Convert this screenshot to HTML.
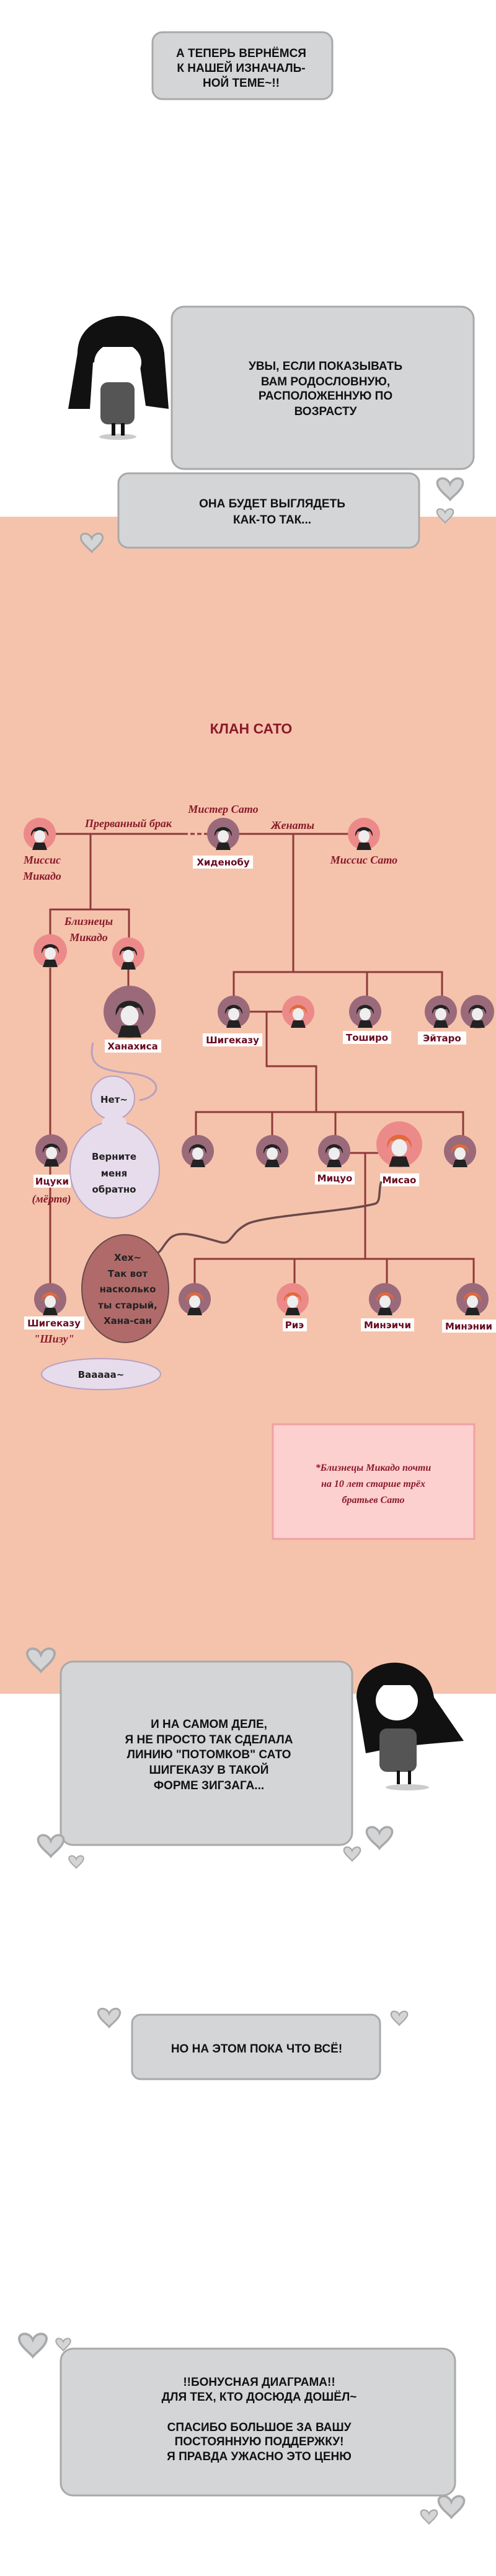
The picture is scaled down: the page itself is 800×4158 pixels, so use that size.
<!DOCTYPE html>
<html><head><meta charset="utf-8"><style>
html,body{margin:0;padding:0;background:#fff}
body{width:800px;height:4158px;position:relative;overflow:hidden}
svg{position:absolute;left:0;top:0}
.c{font-family:"Liberation Sans",sans-serif;font-weight:bold;fill:#111;text-anchor:middle;font-size:19px}
.r{font-family:"Liberation Serif",serif;font-style:italic;font-weight:bold;fill:#8a1a2a;text-anchor:middle;font-size:18px}
.l{font-family:"DejaVu Sans",sans-serif;font-weight:bold;fill:#6a0a20;text-anchor:middle;font-size:15px}
.b{font-family:"DejaVu Sans",sans-serif;fill:#222;text-anchor:middle;font-size:15px;font-weight:bold}
</style></head><body>
<svg width="800" height="4158" viewBox="0 0 800 4158">
<defs>
<g id="heart"><path d="M0,6 C-4,-4 -18,-2 -14,8 C-11,15 -3,20 0,24 C3,20 11,15 14,8 C18,-2 4,-4 0,6Z" fill="#d4d5d7" stroke="#a9a9a9" stroke-width="2.5"/></g>
<g id="fd"><path d="M-14,4 C-16,-16 16,-16 14,4 L10,-4 L-10,-4Z" fill="#222"/><ellipse cx="0" cy="4" rx="9" ry="10" fill="#eee"/><path d="M-12,26 L-8,14 L8,14 L12,26Z" fill="#222"/></g>
<g id="fo"><path d="M-14,4 C-16,-16 16,-16 14,4 L10,-4 L-10,-4Z" fill="#e06a3a"/><ellipse cx="0" cy="4" rx="9" ry="10" fill="#eee"/><path d="M-12,26 L-8,14 L8,14 L12,26Z" fill="#222"/></g>
</defs>
<rect x="0" y="834" width="800" height="1900" fill="#f5c3ac"/>

<rect x="246" y="52" width="290" height="108" rx="16" fill="#d4d5d7" stroke="#a9a9a9" stroke-width="3"/>
<text class="c" x="389" y="92">А ТЕПЕРЬ ВЕРНЁМСЯ</text>
<text class="c" x="389" y="116">К НАШЕЙ ИЗНАЧАЛЬ-</text>
<text class="c" x="389" y="140">НОЙ ТЕМЕ~!!</text>

<ellipse cx="190" cy="705" rx="30" ry="5" fill="#ccc"/>
<path d="M125,570 C125,495 255,485 265,570 L272,660 L235,655 L225,585 L150,585 L145,660 L110,660Z" fill="#111"/>
<ellipse cx="190" cy="585" rx="38" ry="32" fill="#fff"/>
<path d="M152,570 C155,520 228,520 230,570 L230,560 L152,560Z" fill="#111"/>
<rect x="162" y="617" width="55" height="68" rx="12" fill="#555"/>
<rect x="180" y="683" width="6" height="20" fill="#111"/><rect x="195" y="683" width="6" height="20" fill="#111"/>

<rect x="277" y="495" width="487" height="262" rx="20" fill="#d4d5d7" stroke="#a9a9a9" stroke-width="3"/>
<text class="c" x="525" y="597">УВЫ, ЕСЛИ ПОКАЗЫВАТЬ</text>
<text class="c" x="525" y="622">ВАМ РОДОСЛОВНУЮ,</text>
<text class="c" x="525" y="645">РАСПОЛОЖЕННУЮ ПО</text>
<text class="c" x="525" y="670">ВОЗРАСТУ</text>
<rect x="191" y="764" width="485" height="120" rx="16" fill="#d4d5d7" stroke="#a9a9a9" stroke-width="3"/>
<text class="c" x="439" y="819">ОНА БУДЕТ ВЫГЛЯДЕТЬ</text>
<text class="c" x="439" y="845">КАК-ТО ТАК...</text>
<use href="#heart" transform="translate(726,773) scale(1.4)"/>
<use href="#heart" transform="translate(718,822) scale(0.9)"/>
<use href="#heart" transform="translate(148,862) scale(1.2)"/>

<text x="405" y="1184" text-anchor="middle" font-family="Liberation Sans,sans-serif" font-weight="bold" font-size="23" fill="#8a1a2a">КЛАН САТО</text>

<g stroke="#8e3a3a" stroke-width="3" fill="none">
<line x1="64" y1="1346" x2="296" y2="1346"/>
<line x1="296" y1="1346" x2="334" y2="1346" stroke-dasharray="7,4"/>
<line x1="385" y1="1346" x2="561" y2="1346"/>
<line x1="146" y1="1346" x2="146" y2="1468"/>
<polyline points="81,1535 81,1468 208,1468 208,1539"/>
<line x1="81" y1="1535" x2="81" y2="2097"/>
<line x1="207" y1="1539" x2="207" y2="1637"/>
<line x1="473" y1="1346" x2="473" y2="1569"/>
<polyline points="377,1633 377,1569 713,1569 713,1633"/>
<line x1="592" y1="1569" x2="592" y2="1633"/>
<line x1="377" y1="1633" x2="481" y2="1633"/>
<polyline points="430,1633 430,1721 510,1721 510,1795"/>
<polyline points="316,1858 316,1795 747,1795 747,1858"/>
<line x1="439" y1="1795" x2="439" y2="1858"/>
<line x1="541" y1="1795" x2="541" y2="1858"/>
<line x1="539" y1="1861" x2="610" y2="1861"/>
<line x1="589" y1="1861" x2="589" y2="2032"/>
<polyline points="314,2097 314,2032 764,2032 764,2097"/>
<line x1="475" y1="2032" x2="475" y2="2097"/>
<line x1="624" y1="2032" x2="624" y2="2097"/>
</g>

<g stroke="none">
<circle cx="64" cy="1346" r="26" fill="#ec8a8a"/>
<circle cx="360" cy="1346" r="26" fill="#9a6a7a"/>
<circle cx="587" cy="1346" r="26" fill="#ec8a8a"/>
<circle cx="81" cy="1535" r="27" fill="#ec8a8a"/>
<circle cx="207" cy="1539" r="26" fill="#ec8a8a"/>
<circle cx="209" cy="1633" r="42" fill="#9a6a7a"/>
<circle cx="377" cy="1633" r="26" fill="#9a6a7a"/>
<circle cx="481" cy="1633" r="26" fill="#ec8a8a"/>
<circle cx="589" cy="1633" r="26" fill="#9a6a7a"/>
<circle cx="711" cy="1633" r="26" fill="#9a6a7a"/>
<circle cx="770" cy="1633" r="27" fill="#9a6a7a"/>
<circle cx="319" cy="1858" r="26" fill="#9a6a7a"/>
<circle cx="439" cy="1858" r="26" fill="#9a6a7a"/>
<circle cx="539" cy="1858" r="26" fill="#9a6a7a"/>
<circle cx="644" cy="1847" r="37" fill="#ec8a8a"/>
<circle cx="742" cy="1858" r="26" fill="#9a6a7a"/>
<circle cx="83" cy="1857" r="26" fill="#9a6a7a"/>
<circle cx="314" cy="2097" r="26" fill="#9a6a7a"/>
<circle cx="472" cy="2097" r="26" fill="#ec8a8a"/>
<circle cx="621" cy="2097" r="26" fill="#9a6a7a"/>
<circle cx="762" cy="2097" r="26" fill="#9a6a7a"/>
<circle cx="81" cy="2097" r="26" fill="#9a6a7a"/>
</g>
<use href="#fd" x="64" y="1346"/><use href="#fd" x="360" y="1346"/><use href="#fd" x="587" y="1346"/>
<use href="#fd" x="81" y="1535"/><use href="#fd" x="207" y="1539"/>
<g transform="translate(209,1633) scale(1.6)"><use href="#fd"/></g>
<use href="#fd" x="377" y="1633"/><use href="#fo" x="481" y="1633"/><use href="#fd" x="589" y="1633"/>
<use href="#fd" x="711" y="1633"/><use href="#fd" x="770" y="1633"/>
<use href="#fd" x="319" y="1858"/><use href="#fd" x="439" y="1858"/><use href="#fd" x="539" y="1858"/>
<g transform="translate(644,1847) scale(1.4)"><use href="#fo"/></g>
<use href="#fo" x="742" y="1858"/><use href="#fd" x="83" y="1857"/>
<use href="#fo" x="314" y="2097"/><use href="#fo" x="472" y="2097"/><use href="#fo" x="621" y="2097"/>
<use href="#fo" x="762" y="2097"/><use href="#fo" x="81" y="2097"/>

<text class="r" x="360" y="1312">Мистер Сато</text>
<text class="r" x="207" y="1335">Прерванный брак</text>
<text class="r" x="472" y="1338">Женаты</text>
<text class="r" x="68" y="1394">Миссис</text>
<text class="r" x="68" y="1420">Микадо</text>
<text class="r" x="587" y="1394">Миссис Сато</text>
<text class="r" x="143" y="1493">Близнецы</text>
<text class="r" x="143" y="1519">Микадо</text>
<text class="r" x="83" y="1941">(мёртв)</text>
<text class="r" x="87" y="2167">"Шизу"</text>

<g fill="#fff">
<rect x="311" y="1381" width="97" height="21"/>
<rect x="169" y="1678" width="91" height="21"/>
<rect x="327" y="1668" width="96" height="21"/>
<rect x="553" y="1664" width="78" height="21"/>
<rect x="674" y="1665" width="78" height="21"/>
<rect x="54" y="1896" width="60" height="21"/>
<rect x="508" y="1891" width="64" height="21"/>
<rect x="613" y="1894" width="63" height="21"/>
<rect x="39" y="2125" width="97" height="21"/>
<rect x="456" y="2128" width="39" height="21"/>
<rect x="582" y="2128" width="86" height="21"/>
<rect x="713" y="2130" width="87" height="21"/>
</g>
<text class="l" x="360" y="1397">Хиденобу</text>
<text class="l" x="214" y="1694">Ханахиса</text>
<text class="l" x="375" y="1684">Шигеказу</text>
<text class="l" x="592" y="1680">Тоширо</text>
<text class="l" x="713" y="1681">Эйтаро</text>
<text class="l" x="84" y="1912">Ицуки</text>
<text class="l" x="540" y="1907">Мицуо</text>
<text class="l" x="644" y="1910">Мисао</text>
<text class="l" x="87" y="2141">Шигеказу</text>
<text class="l" x="475" y="2144">Риэ</text>
<text class="l" x="625" y="2144">Минэичи</text>
<text class="l" x="756" y="2146">Минэнии</text>

<path d="M150,1683 C140,1725 170,1728 215,1733 C265,1740 260,1770 225,1776" fill="none" stroke="#b7a0c0" stroke-width="3"/>
<g fill="#e6dcec" stroke="#b7a0c0" stroke-width="2">
<circle cx="182" cy="1772" r="35"/>
<ellipse cx="185" cy="1888" rx="72" ry="78"/>
</g>
<ellipse cx="184" cy="1812" rx="20" ry="12" fill="#e6dcec"/>
<text class="b" x="184" y="1780">Нет~</text>
<text class="b" x="184" y="1872">Верните</text>
<text class="b" x="184" y="1899">меня</text>
<text class="b" x="184" y="1925">обратно</text>

<path d="M615,1907 C610,1920 615,1940 605,1943 C560,1955 430,1962 400,1975 C370,1990 375,2010 355,2005 C320,1995 290,1985 275,1998 C262,2010 262,2020 250,2025" fill="none" stroke="#6a4a4a" stroke-width="3.5"/>
<ellipse cx="202" cy="2080" rx="70" ry="87" fill="#b06a6a" stroke="#6a4a4a" stroke-width="2"/>
<text class="b" x="206" y="2035">Хех~</text>
<text class="b" x="206" y="2061">Так вот</text>
<text class="b" x="206" y="2086">насколько</text>
<text class="b" x="206" y="2112">ты старый,</text>
<text class="b" x="206" y="2137">Хана-сан</text>

<ellipse cx="163" cy="2218" rx="96" ry="25" fill="#e6dcec" stroke="#b7a0c0" stroke-width="2"/>
<text class="b" x="163" y="2224" font-weight="normal">Вааааа~</text>

<rect x="440" y="2299" width="325" height="185" fill="#fdd0d0" stroke="#f0a0a0" stroke-width="3"/>
<text class="r" x="602" y="2374" style="font-size:16px">*Близнецы Микадо почти</text>
<text class="r" x="602" y="2400" style="font-size:16px">на 10 лет старше трёх</text>
<text class="r" x="602" y="2426" style="font-size:16px">братьев Сато</text>

<use href="#heart" transform="translate(66,2662) scale(1.5)"/>
<rect x="98" y="2682" width="470" height="296" rx="20" fill="#d4d5d7" stroke="#a9a9a9" stroke-width="3"/>
<text class="c" x="337" y="2789">И НА САМОМ ДЕЛЕ,</text>
<text class="c" x="337" y="2814">Я НЕ ПРОСТО ТАК СДЕЛАЛА</text>
<text class="c" x="337" y="2838">ЛИНИЮ "ПОТОМКОВ" САТО</text>
<text class="c" x="337" y="2863">ШИГЕКАЗУ В ТАКОЙ</text>
<text class="c" x="337" y="2888">ФОРМЕ ЗИГЗАГА...</text>
<use href="#heart" transform="translate(82,2963) scale(1.4)"/>
<use href="#heart" transform="translate(123,2996) scale(0.8)"/>
<use href="#heart" transform="translate(612,2950) scale(1.4)"/>
<use href="#heart" transform="translate(568,2982) scale(0.9)"/>
<ellipse cx="657" cy="2885" rx="35" ry="5" fill="#ccc"/>
<path d="M575,2740 C575,2670 690,2660 700,2740 L748,2810 L690,2815 L640,2820 L590,2830Z" fill="#111"/>
<ellipse cx="640" cy="2745" rx="34" ry="32" fill="#fff"/>
<path d="M605,2730 C610,2690 670,2690 676,2730 L676,2720 L605,2720Z" fill="#111"/>
<rect x="612" y="2790" width="60" height="70" rx="12" fill="#555"/>
<rect x="640" y="2858" width="5" height="22" fill="#111"/><rect x="658" y="2858" width="5" height="22" fill="#111"/>

<use href="#heart" transform="translate(176,3243) scale(1.2)"/>
<use href="#heart" transform="translate(644,3247) scale(0.9)"/>
<rect x="213" y="3252" width="400" height="104" rx="14" fill="#d4d5d7" stroke="#a9a9a9" stroke-width="3"/>
<text class="c" x="414" y="3313">НО НА ЭТОМ ПОКА ЧТО ВСЁ!</text>

<use href="#heart" transform="translate(53,3768) scale(1.5)"/>
<use href="#heart" transform="translate(102,3775) scale(0.8)"/>
<rect x="98" y="3791" width="636" height="237" rx="20" fill="#d4d5d7" stroke="#a9a9a9" stroke-width="3"/>
<text class="c" x="418" y="3851">!!БОНУСНАЯ ДИАГРАМА!!</text>
<text class="c" x="418" y="3875">ДЛЯ ТЕХ, КТО ДОСЮДА ДОШЁЛ~</text>
<text class="c" x="418" y="3924">СПАСИБО БОЛЬШОЕ ЗА ВАШУ</text>
<text class="c" x="418" y="3947">ПОСТОЯННУЮ ПОДДЕРЖКУ!</text>
<text class="c" x="418" y="3971">Я ПРАВДА УЖАСНО ЭТО ЦЕНЮ</text>
<use href="#heart" transform="translate(728,4030) scale(1.4)"/>
<use href="#heart" transform="translate(692,4052) scale(0.9)"/>
</svg>
</body></html>
